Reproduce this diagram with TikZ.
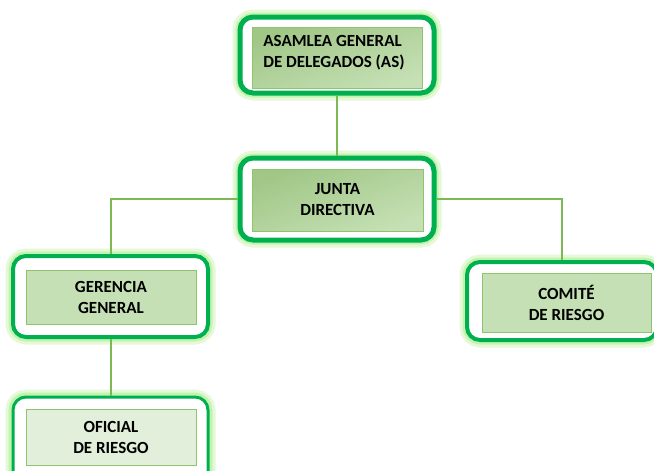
\documentclass[tikz,border=0pt]{standalone}
\usepackage{fontspec}
\setmainfont{Carlito}
\definecolor{bordergreen}{HTML}{00B050}
\definecolor{glowgreen}{HTML}{C6EFA8}
\definecolor{linkgreen}{HTML}{7CB855}
\definecolor{fillA}{HTML}{A9D18E}
\definecolor{fillB}{HTML}{C5E0B4}
\definecolor{fillC}{HTML}{E2EFDA}
\definecolor{innerborder}{HTML}{8FC46F}
\tikzset{
  outerbox/.style={draw=bordergreen, line width=#1, fill=white, rounded corners=13pt,
    preaction={draw=glowgreen, line width=15pt, opacity=0.45},
    preaction={draw=glowgreen!80!green, line width=9pt, opacity=0.5}},
  outerbox/.default=4pt,
  innerbox/.style={draw=innerborder, line width=0.5pt, font=\bfseries\fontsize{17}{21}\selectfont,
    align=center, text=black, inner sep=0pt},
  gradbox/.style={innerbox, top color=fillA!95!black, bottom color=fillB, shading angle=20},
  flatbox/.style={innerbox, fill=fillB},
  lightbox/.style={innerbox, fill=fillC},
  link/.style={draw=linkgreen, line width=2pt}
}
\begin{document}
\begin{tikzpicture}[x=1pt,y=-1pt]
\useasboundingbox (0,0) rectangle (654,471);
% outer boxes
\node[outerbox=5pt, minimum width=194pt, minimum height=76pt] (as) at (337,55) {};
\node[outerbox=5pt, minimum width=194pt, minimum height=82pt] (jd) at (337,199) {};
\node[outerbox=4pt, minimum width=195pt, minimum height=81pt] (gg) at (110.5,296.5) {};
\node[outerbox=4pt, minimum width=190pt, minimum height=78pt] (cr) at (562,301) {};
\node[outerbox=3pt, minimum width=195pt, minimum height=88pt] (or) at (110.5,441) {};
% inner boxes
\node[gradbox, minimum width=170pt, minimum height=61pt] (asi) at (337,57.5) {};
\node[font=\bfseries\fontsize{17}{21}\selectfont, align=left, inner sep=0pt] (ast) at (334,53) {ASAMLEA GENERAL\\DE DELEGADOS (AS)};
\node[gradbox, minimum width=171pt, minimum height=62pt] (jdi) at (337.5,200) {JUNTA\\DIRECTIVA};
\node[flatbox, minimum width=170pt, minimum height=54pt] (ggi) at (111,297) {GERENCIA\\GENERAL};
\node[flatbox, minimum width=169pt, minimum height=59pt] (cri) at (566.5,302.5) {COMITÉ\\DE RIESGO};
\node[lightbox, minimum width=170pt, minimum height=56pt] (ori) at (111,437) {OFICIAL\\DE RIESGO};
% connectors
\path[link] (as.south) -- (jd.north);
\path[link] (jd.west) -| (gg.north);
\path[link] (jd.east) -| (cr.north);
\path[link] (gg.south) -- (or.north);
\end{tikzpicture}
\end{document}
